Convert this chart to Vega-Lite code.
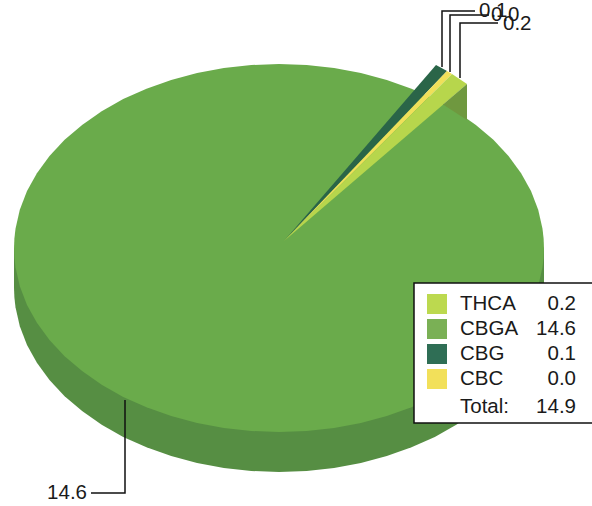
{"$schema":"https://vega.github.io/schema/vega-lite/v6.json","width":592,"height":506,"padding":0,"autosize":"none","background":"white","view":{"stroke":null},"config":{"text":{"font":"Liberation Sans"}},
"datasets":{"outline":[
{"part":"side","x":14,"y":248,"y2":288},{"part":"side","x":14.4,"y":248,"y2":297.6},{"part":"side","x":15.5,"y":248,"y2":307.2},{"part":"side","x":19.8,"y":248,"y2":326.3},{"part":"side","x":27,"y":248,"y2":344.9},{"part":"side","x":36.9,"y":248,"y2":362.8},{"part":"side","x":49.5,"y":248,"y2":380},{"part":"side","x":64.6,"y":248,"y2":396.2},{"part":"side","x":82.1,"y":248,"y2":411.1},{"part":"side","x":101.7,"y":248,"y2":424.7},{"part":"side","x":123.2,"y":248,"y2":436.9},{"part":"side","x":146.5,"y":248,"y2":447.3},{"part":"side","x":171.2,"y":248,"y2":456.1},{"part":"side","x":197.1,"y":248,"y2":463},{"part":"side","x":223.9,"y":248,"y2":468},{"part":"side","x":251.3,"y":248,"y2":471},{"part":"side","x":279,"y":248,"y2":472},{"part":"side","x":306.7,"y":248,"y2":471},{"part":"side","x":334.1,"y":248,"y2":468},{"part":"side","x":360.9,"y":248,"y2":463},{"part":"side","x":386.8,"y":248,"y2":456.1},{"part":"side","x":411.5,"y":248,"y2":447.3},{"part":"side","x":434.8,"y":248,"y2":436.9},{"part":"side","x":456.3,"y":248,"y2":424.7},{"part":"side","x":475.9,"y":248,"y2":411.1},{"part":"side","x":493.4,"y":248,"y2":396.2},{"part":"side","x":508.5,"y":248,"y2":380},{"part":"side","x":521.1,"y":248,"y2":362.8},{"part":"side","x":531,"y":248,"y2":344.9},{"part":"side","x":538.2,"y":248,"y2":326.3},{"part":"side","x":542.5,"y":248,"y2":307.2},{"part":"side","x":543.6,"y":248,"y2":297.6},{"part":"side","x":544,"y":248,"y2":288},
{"part":"top","x":14,"y":248,"y2":248},{"part":"top","x":14.4,"y":238.4,"y2":257.6},{"part":"top","x":15.5,"y":228.8,"y2":267.2},{"part":"top","x":19.8,"y":209.7,"y2":286.3},{"part":"top","x":27,"y":191.1,"y2":304.9},{"part":"top","x":36.9,"y":173.2,"y2":322.8},{"part":"top","x":49.5,"y":156,"y2":340},{"part":"top","x":64.6,"y":139.8,"y2":356.2},{"part":"top","x":82.1,"y":124.9,"y2":371.1},{"part":"top","x":101.7,"y":111.3,"y2":384.7},{"part":"top","x":123.2,"y":99.1,"y2":396.9},{"part":"top","x":146.5,"y":88.7,"y2":407.3},{"part":"top","x":171.2,"y":79.9,"y2":416.1},{"part":"top","x":197.1,"y":73,"y2":423},{"part":"top","x":223.9,"y":68,"y2":428},{"part":"top","x":251.3,"y":65,"y2":431},{"part":"top","x":279,"y":64,"y2":432},{"part":"top","x":306.7,"y":65,"y2":431},{"part":"top","x":334.1,"y":68,"y2":428},{"part":"top","x":360.9,"y":73,"y2":423},{"part":"top","x":386.8,"y":79.9,"y2":416.1},{"part":"top","x":411.5,"y":88.7,"y2":407.3},{"part":"top","x":434.8,"y":99.1,"y2":396.9},{"part":"top","x":456.3,"y":111.3,"y2":384.7},{"part":"top","x":475.9,"y":124.9,"y2":371.1},{"part":"top","x":493.4,"y":139.8,"y2":356.2},{"part":"top","x":508.5,"y":156,"y2":340},{"part":"top","x":521.1,"y":173.2,"y2":322.8},{"part":"top","x":531,"y":191.1,"y2":304.9},{"part":"top","x":538.2,"y":209.7,"y2":286.3},{"part":"top","x":542.5,"y":228.8,"y2":267.2},{"part":"top","x":543.6,"y":238.4,"y2":257.6},{"part":"top","x":544,"y":248,"y2":248},
{"part":"CBG","x":284,"y":241,"y2":241},{"part":"CBG","x":436,"y":65,"y2":82.5},{"part":"CBG","x":447,"y":71,"y2":71},
{"part":"CBC","x":284,"y":241,"y2":241},{"part":"CBC","x":447,"y":71,"y2":79},{"part":"CBC","x":452,"y":74,"y2":74},
{"part":"THCA","x":284,"y":241,"y2":241},{"part":"THCA","x":452,"y":74,"y2":97},{"part":"THCA","x":467,"y":84,"y2":84},
{"part":"wedgeSide","x":443,"y":104.6,"y2":104.6},{"part":"wedgeSide","x":467,"y":84,"y2":120}
],
"leaders":[
{"id":"CBG","seq":1,"x":442,"y":67},{"id":"CBG","seq":2,"x":442,"y":11},{"id":"CBG","seq":3,"x":475,"y":11},
{"id":"CBC","seq":1,"x":450,"y":72},{"id":"CBC","seq":2,"x":450,"y":15},{"id":"CBC","seq":3,"x":489,"y":15},
{"id":"THCA","seq":1,"x":460,"y":78},{"id":"THCA","seq":2,"x":460,"y":23},{"id":"THCA","seq":3,"x":498,"y":23},
{"id":"CBGA","seq":1,"x":125,"y":400},{"id":"CBGA","seq":2,"x":125,"y":493},{"id":"CBGA","seq":3,"x":91,"y":493}
],
"callouts":[
{"label":"0.1","x":479,"y":11},{"label":"0.0","x":491,"y":15},{"label":"0.2","x":503,"y":24}
],
"table":[
{"name":"THCA","value":"0.2"},{"name":"CBGA","value":"14.6"},{"name":"CBG","value":"0.1"},{"name":"CBC","value":"0.0"},{"name":"Total:","value":"14.9"}
]},
"layer":[
{"data":{"name":"outline"},"mark":{"type":"area","interpolate":"linear","clip":true},"encoding":{
"x":{"field":"x","type":"quantitative","scale":{"domain":[0,592],"nice":false,"zero":false},"axis":null},
"y":{"field":"y","type":"quantitative","stack":null,"scale":{"domain":[506,0],"nice":false,"zero":false},"axis":null},
"y2":{"field":"y2"},
"color":{"field":"part","type":"nominal","legend":null,"scale":{"domain":["side","top","CBG","CBC","THCA","wedgeSide"],"range":["#568e43","#6aab4b","#2a6548","#efe05a","#b7d64c","#6f983f"]}}}},
{"data":{"name":"leaders"},"mark":{"type":"line","color":"#111111","strokeWidth":1.5},"encoding":{
"x":{"field":"x","type":"quantitative","scale":{"domain":[0,592],"nice":false,"zero":false},"axis":null},
"y":{"field":"y","type":"quantitative","scale":{"domain":[506,0],"nice":false,"zero":false},"axis":null},
"detail":{"field":"id"},"order":{"field":"seq"}}},
{"data":{"name":"callouts"},"mark":{"type":"text","align":"left","baseline":"middle","fontSize":20.5,"color":"#1a1a1a"},"encoding":{
"x":{"field":"x","type":"quantitative","scale":{"domain":[0,592],"nice":false,"zero":false},"axis":null},
"y":{"field":"y","type":"quantitative","scale":{"domain":[506,0],"nice":false,"zero":false},"axis":null},
"text":{"field":"label"}}},
{"data":{"values":[{"label":"14.6","x":87,"y":493}]},"mark":{"type":"text","align":"right","baseline":"middle","fontSize":20.5,"color":"#1a1a1a"},"encoding":{
"x":{"field":"x","type":"quantitative","scale":{"domain":[0,592],"nice":false,"zero":false},"axis":null},
"y":{"field":"y","type":"quantitative","scale":{"domain":[506,0],"nice":false,"zero":false},"axis":null},
"text":{"field":"label"}}},
{"data":{"values":[{"x":414,"x2":600,"y":283,"y2":423}]},"mark":{"type":"rect","fill":"white","stroke":"#111111","strokeWidth":1.5},"encoding":{
"x":{"field":"x","type":"quantitative","scale":{"domain":[0,592],"nice":false,"zero":false},"axis":null},"x2":{"field":"x2"},
"y":{"field":"y","type":"quantitative","scale":{"domain":[506,0],"nice":false,"zero":false},"axis":null},"y2":{"field":"y2"}}},
{"data":{"name":"table"},"transform":[{"filter":"datum.name !== 'Total:'"}],"mark":{"type":"point","shape":"square","filled":true,"size":400,"opacity":1},"encoding":{
"x":{"datum":437,"type":"quantitative","scale":{"domain":[0,592],"nice":false,"zero":false},"axis":null},
"y":{"field":"name","type":"nominal","axis":null,"scale":{"domain":["THCA","CBGA","CBG","CBC","Total:"],"range":[304,404],"padding":0}},
"color":{"field":"name","type":"nominal","legend":null,"scale":{"domain":["THCA","CBGA","CBG","CBC"],"range":["#bcd94f","#7ab055","#2f6e55","#f2e05a"]}}}},
{"data":{"name":"table"},"transform":[{"filter":"datum.name !== 'Total:'"}],"mark":{"type":"text","align":"left","baseline":"middle","fontSize":20.5,"color":"#1a1a1a"},"encoding":{
"x":{"datum":460,"type":"quantitative","scale":{"domain":[0,592],"nice":false,"zero":false},"axis":null},
"y":{"field":"name","type":"nominal","axis":null,"scale":{"domain":["THCA","CBGA","CBG","CBC","Total:"],"range":[304,404],"padding":0}},
"text":{"field":"name"}}},
{"data":{"name":"table"},"transform":[{"filter":"datum.name !== 'Total:'"}],"mark":{"type":"text","align":"right","baseline":"middle","fontSize":20.5,"color":"#1a1a1a"},"encoding":{
"x":{"datum":576,"type":"quantitative","scale":{"domain":[0,592],"nice":false,"zero":false},"axis":null},
"y":{"field":"name","type":"nominal","axis":null,"scale":{"domain":["THCA","CBGA","CBG","CBC","Total:"],"range":[304,404],"padding":0}},
"text":{"field":"value"}}},
{"data":{"name":"table"},"transform":[{"filter":"datum.name === 'Total:'"}],"mark":{"type":"text","align":"left","baseline":"middle","fontSize":20.5,"color":"#1a1a1a","dy":3},"encoding":{
"x":{"datum":460,"type":"quantitative","scale":{"domain":[0,592],"nice":false,"zero":false},"axis":null},
"y":{"field":"name","type":"nominal","axis":null,"scale":{"domain":["THCA","CBGA","CBG","CBC","Total:"],"range":[304,404],"padding":0}},
"text":{"field":"name"}}},
{"data":{"name":"table"},"transform":[{"filter":"datum.name === 'Total:'"}],"mark":{"type":"text","align":"right","baseline":"middle","fontSize":20.5,"color":"#1a1a1a","dy":3},"encoding":{
"x":{"datum":576,"type":"quantitative","scale":{"domain":[0,592],"nice":false,"zero":false},"axis":null},
"y":{"field":"name","type":"nominal","axis":null,"scale":{"domain":["THCA","CBGA","CBG","CBC","Total:"],"range":[304,404],"padding":0}},
"text":{"field":"value"}}}
],
"resolve":{"scale":{"y":"independent","color":"independent"}}}
